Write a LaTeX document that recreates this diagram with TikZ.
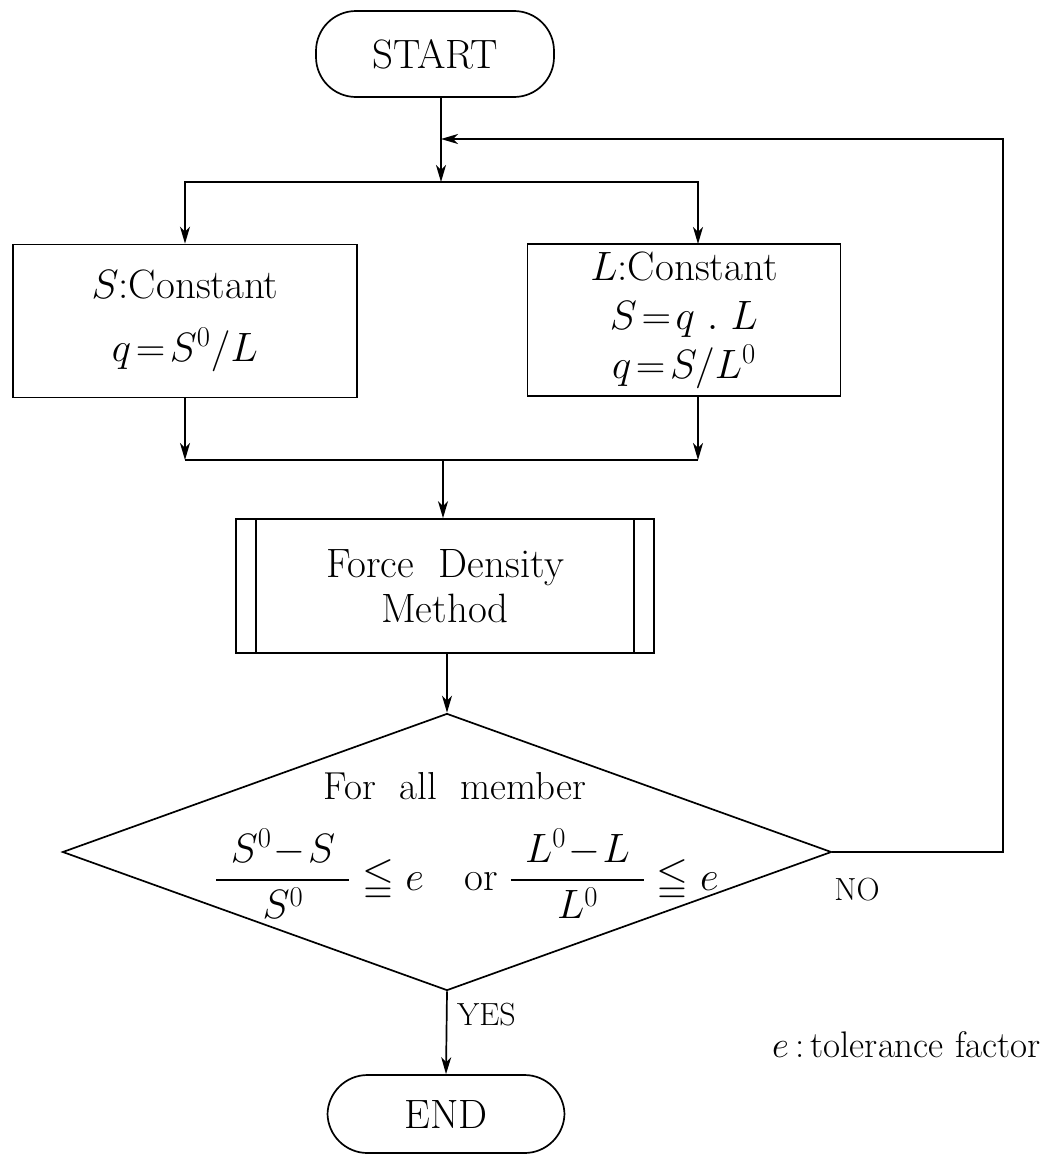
\RequirePackage{fix-cm}
\documentclass[tikz,border=0pt]{standalone}
\usepackage{amsmath,amssymb}
\usetikzlibrary{arrows.meta,shapes.geometric}
\newcommand{\bigfnt}{\fontsize{41}{48}\selectfont}
\newcommand{\midfnt}{\fontsize{39}{46}\selectfont}
\newcommand{\lblfnt}{\fontsize{32}{38}\selectfont}
\newcommand{\notefnt}{\fontsize{37}{44}\selectfont}
\tikzset{
  conn/.style={line width=1.7pt},
  arr/.style={conn,-{Stealth[length=17pt,width=10pt,inset=5pt]}},
  term/.style={draw,line width=1.7pt,rounded corners=40pt,inner sep=0pt,font=\bigfnt},
  procbox/.style={draw,line width=1.7pt,inner sep=0pt,font=\bigfnt,align=center},
  decision/.style={draw,diamond,line width=1.7pt,inner sep=0pt,minimum width=769pt,minimum height=277pt},
  lbl/.style={font=\lblfnt,inner sep=0pt},
}
\begin{document}
\begin{tikzpicture}[x=1pt,y=-1pt]
\useasboundingbox (0,0) rectangle (1058,1159);
% nodes
\node[term,minimum width=238pt,minimum height=86pt] (start) at (435,54) {START};
\node[procbox,minimum width=344pt,minimum height=153pt] (lbox) at (185,321)
  {$S$:Constant\\[15pt]$q\!=\!S^{0}/L$};
\node[procbox,minimum width=313pt,minimum height=152pt] (rbox) at (684,320)
  {$L$:Constant\\[1pt]$S\!=\!q\ .\ L$\\[1pt]$q\!=\!S/L^{0}$};
\node[procbox,minimum width=418pt,minimum height=134pt] (fd) at (445,586)
  {Force~ Density\\[-3pt]Method};
\node[decision] (dec) at (447,852) {};
\node[term,minimum width=237pt,minimum height=78pt] (end) at (446,1114) {END};
\node[font=\midfnt,inner sep=0pt] (cond1) at (455,786) {For~ all~ member};
\node[font=\bigfnt,inner sep=0pt] (cond2) at (467,874)
  {$\dfrac{\hspace{0.35em}S^{0}\!-\!S\hspace{0.35em}}{S^{0}}\leqq e\quad\text{or}\;\dfrac{\hspace{0.35em}L^{0}\!-\!L\hspace{0.35em}}{L^{0}}\leqq e$};
\node[lbl] (no) at (857,890) {NO};
\node[lbl,anchor=west] (yes) at (457,1015) {YES};
\node[font=\notefnt,inner sep=0pt,anchor=west] (note) at (772,1045) {$e$\,:\,tolerance factor};
% predefined process inner lines
\draw[conn] ([xshift=21pt]fd.north west) -- ([xshift=21pt]fd.south west);
\draw[conn] ([xshift=-21pt]fd.north east) -- ([xshift=-21pt]fd.south east);
% coordinates
\coordinate (split) at (441,182);
\coordinate (join) at (441,139);
\coordinate (fbtop) at (1003,139);
\coordinate (merge) at (443,460);
\coordinate (rin) at (698,244);
\coordinate (rout) at (698,396);
% connectors
\draw[arr] (start.south -| split) -- (split);
\draw[arr] (split) -| (lbox.north);
\draw[arr] (split) -| (rin);
\draw[arr] (lbox.south) -- (lbox.south |- merge);
\draw[arr] (rout) -- (rout |- merge);
\draw[conn] (lbox.south |- merge) -- (rout |- merge);
\draw[arr] (merge) -- (merge |- fd.north);
\draw[arr] (fd.south -| dec.north) -- (dec.north);
\draw[arr] (dec.south) -- (end.north);
\draw[arr] (dec.east) -| (fbtop) -- (join);
\end{tikzpicture}
\end{document}
